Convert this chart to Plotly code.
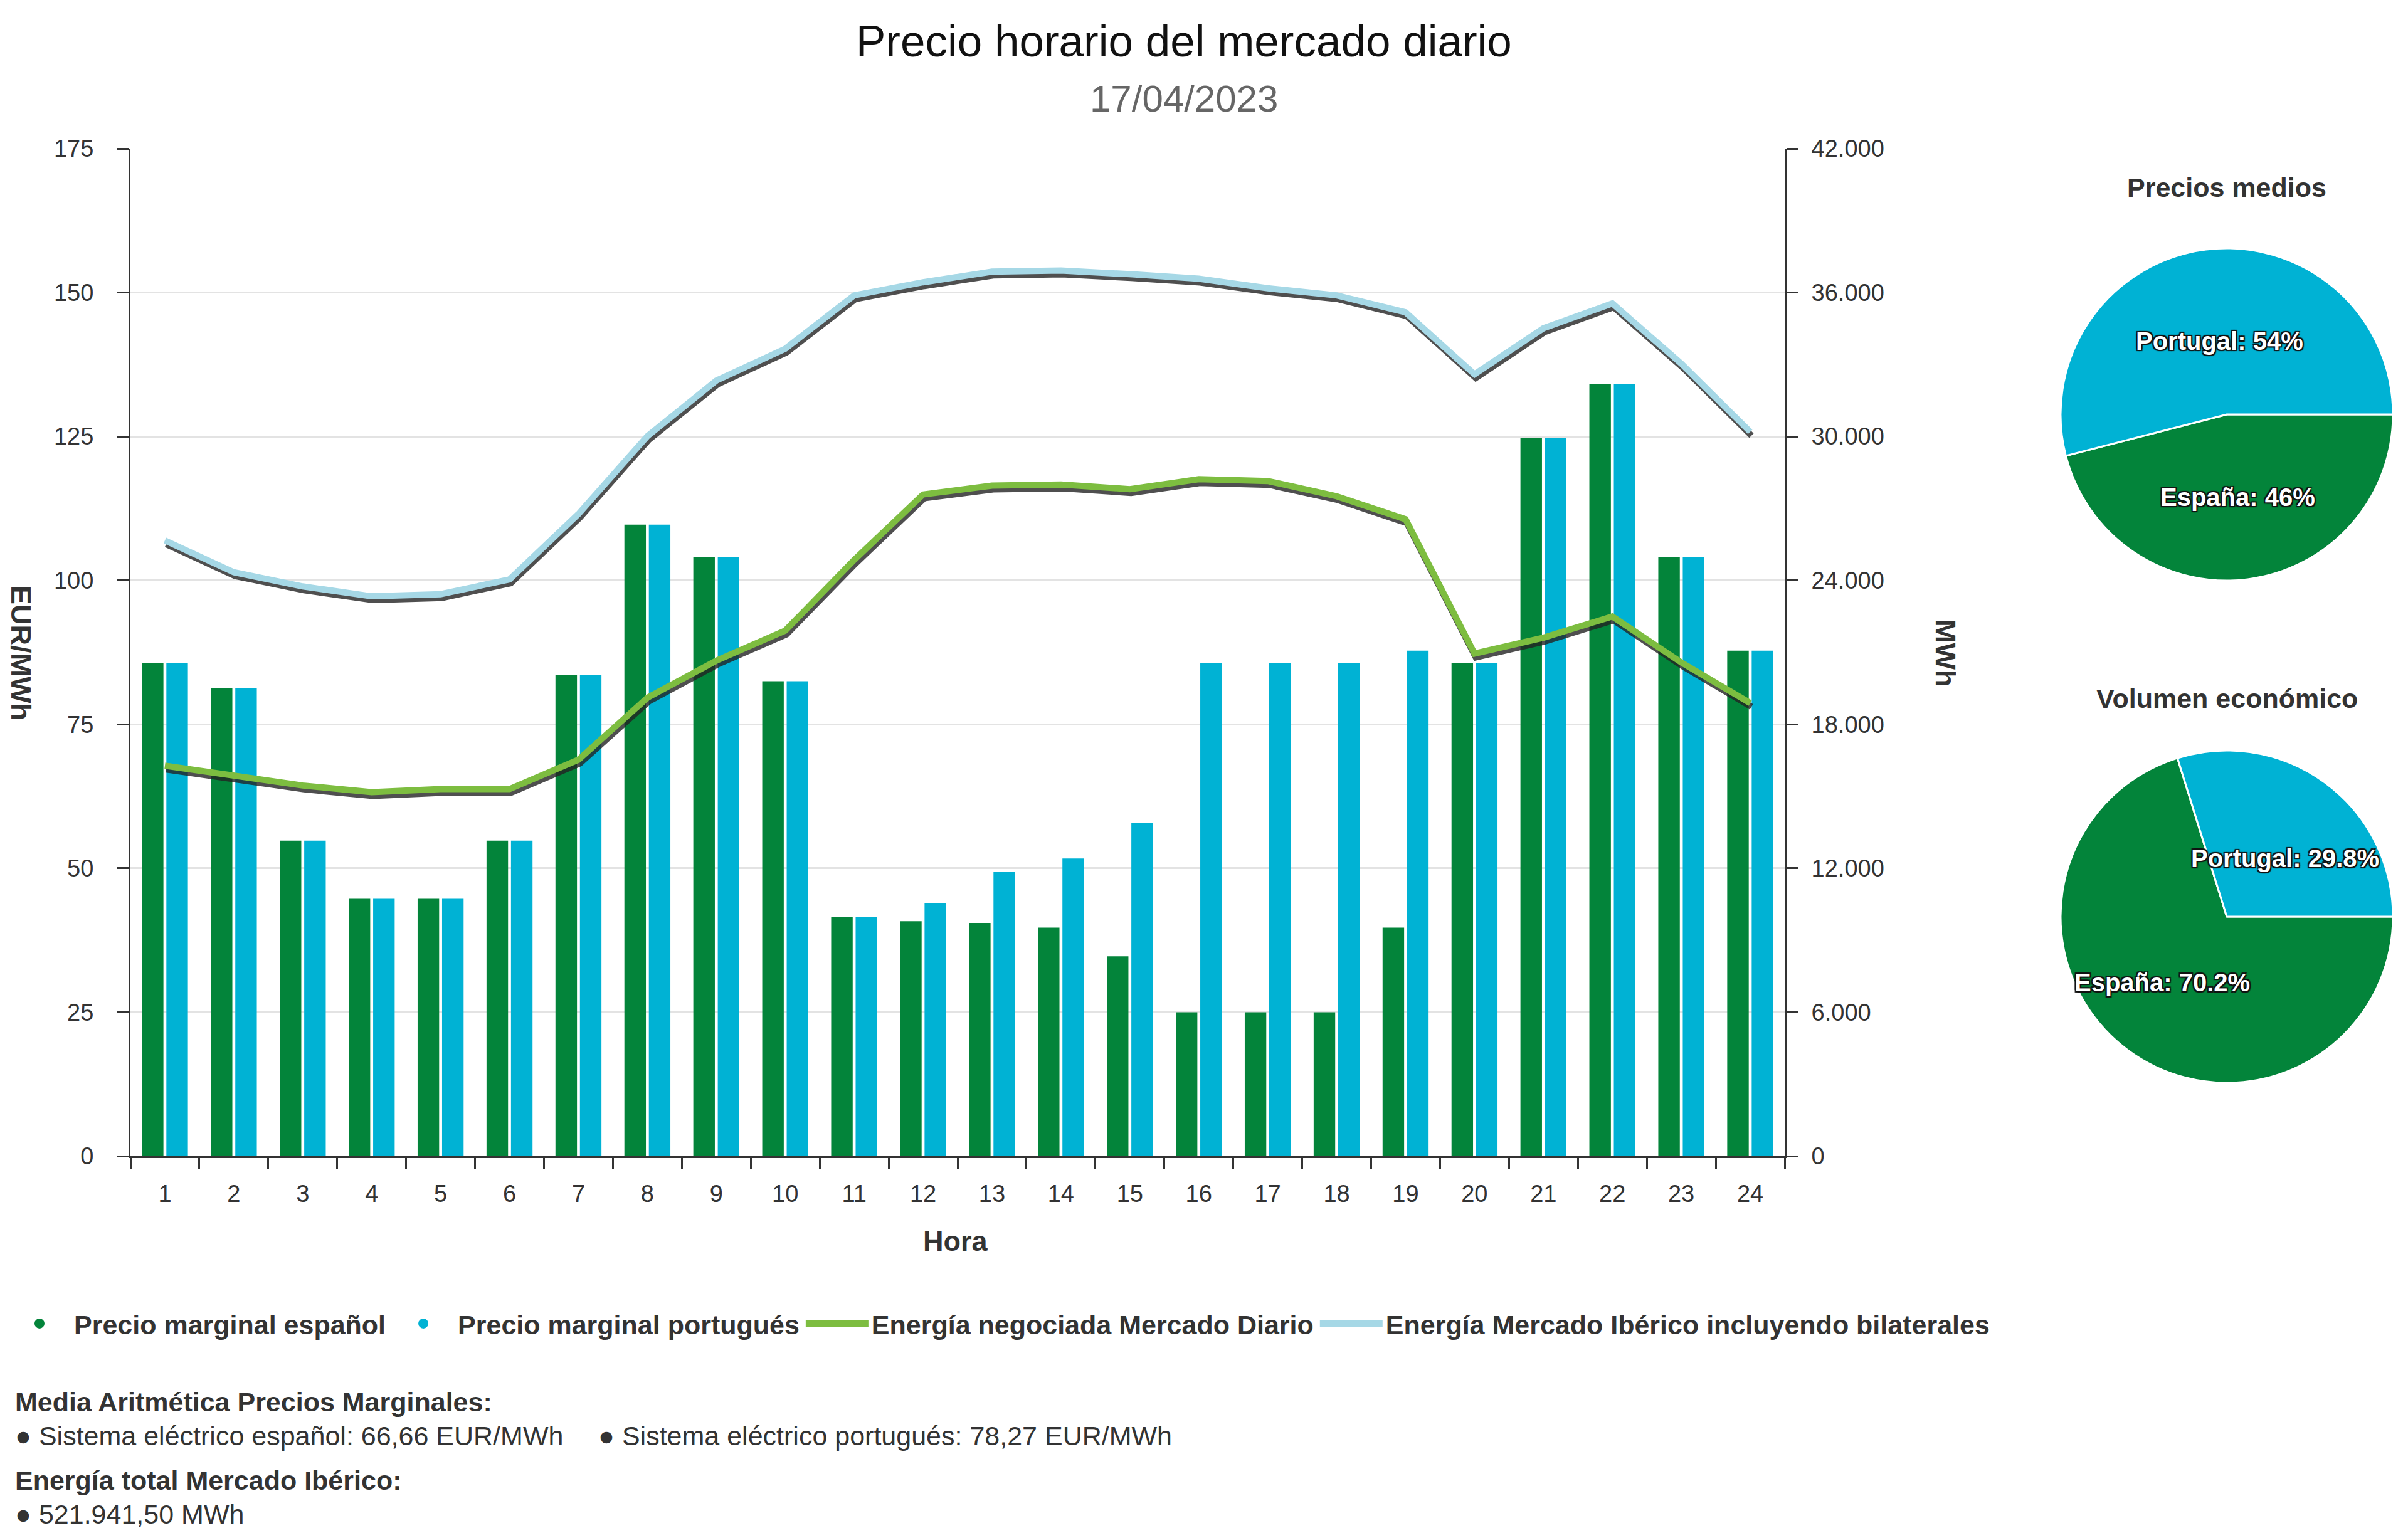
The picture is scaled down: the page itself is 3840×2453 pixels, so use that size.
import plotly.graph_objects as go

# ---------------- data ----------------
horas = list(range(1, 25))
precio_es = [85.6, 81.3, 54.8, 44.7, 44.7, 54.8, 83.6, 109.7, 104.0, 82.5, 41.6, 40.8,
             40.5, 39.7, 34.7, 25.0, 25.0, 25.0, 39.7, 85.6, 124.8, 134.1, 104.0, 87.8]
precio_pt = [85.6, 81.3, 54.8, 44.7, 44.7, 54.8, 83.6, 109.7, 104.0, 82.5, 41.6, 44.0,
             49.4, 51.7, 57.9, 85.6, 85.6, 85.6, 87.8, 85.6, 124.8, 134.1, 104.0, 87.8]
energia_md = [16275, 15863, 15449, 15170, 15302, 15302, 16526, 19106, 20654, 21907, 24855, 27582,
              27951, 27996, 27804, 28217, 28143, 27508, 26550, 20949, 21612, 22496, 20580, 18885]
energia_ib = [25666, 24339, 23750, 23337, 23424, 24043, 26771, 30015, 32328, 33656, 35882, 36428,
              36870, 36914, 36765, 36575, 36177, 35882, 35174, 32594, 34511, 35543, 33036, 30192]

eur_ticks = [0, 25, 50, 75, 100, 125, 150, 175]
mwh_ticks = [0, 6000, 12000, 18000, 24000, 30000, 36000, 42000]
mwh_ticktext = ["0", "6.000", "12.000", "18.000", "24.000", "30.000", "36.000", "42.000"]

pie_labels = ["España", "Portugal"]
precios_medios = [66.66, 78.27]
volumen_economico = [70.2, 29.8]

# ---------------- style ----------------
OFF = 8                      # default page margin around the figure
W, H = 3840 - 2 * OFF, 2453 - 2 * OFF
FONT = "Liberation Sans, Arial, sans-serif"
C_ES = "#03843A"
C_PT = "#00B2D4"
C_MD = "#7DBD40"
C_IB = "#A6D8E6"
AX = "#333333"
GRID = "#e3e3e3"


def fx(x):
    return (x - OFF) / W


def fy(y):
    return 1 - (y - OFF) / H


x0, x1 = 208, 2846
y_top, y_bot = 237, 1844
xdom = [fx(x0), fx(x1)]
ydom = [fy(y_bot), fy(y_top)]
plot_w = x1 - x0
plot_h = y_bot - y_top

SH_X, SH_Y = 2, 6  # shadow offset in pixels
dx = SH_X / plot_w * 24
dy = SH_Y / plot_h * 42000
LW = 10

fig = go.Figure()

fig.add_trace(go.Bar(x=horas, y=precio_es, name="Precio marginal español", marker=dict(color=C_ES, line=dict(width=0)),
                     showlegend=False, legendgroup="es", xaxis="x", yaxis="y"))
fig.add_trace(go.Bar(x=horas, y=precio_pt, name="Precio marginal portugués", marker=dict(color=C_PT, line=dict(width=0)),
                     showlegend=False, legendgroup="pt", xaxis="x", yaxis="y"))

# shadows
for serie in (energia_ib, energia_md):
    fig.add_trace(go.Scatter(x=horas, y=serie, mode="lines", line=dict(color="rgba(35,35,35,0.8)", width=LW),
                             showlegend=False, hoverinfo="skip", xaxis="x2", yaxis="y3"))

fig.add_trace(go.Scatter(x=horas, y=energia_ib, mode="lines", name="Energía Mercado Ibérico incluyendo bilaterales",
                         line=dict(color=C_IB, width=LW), legendrank=4, xaxis="x3", yaxis="y2"))
fig.add_trace(go.Scatter(x=horas, y=energia_md, mode="lines", name="Energía negociada Mercado Diario",
                         line=dict(color=C_MD, width=LW), legendrank=3, xaxis="x3", yaxis="y2"))

# legend entries for the bars (circle symbols)
fig.add_trace(go.Scatter(x=[None], y=[None], mode="markers", name="Precio marginal español", legendgroup="es",
                         marker=dict(color=C_ES, size=16, symbol="circle"), legendrank=1, xaxis="x", yaxis="y"))
fig.add_trace(go.Scatter(x=[None], y=[None], mode="markers", name="Precio marginal portugués", legendgroup="pt",
                         marker=dict(color=C_PT, size=16, symbol="circle"), legendrank=2, xaxis="x", yaxis="y"))


# pies
def pie_dom(cx, cy, r):
    return dict(x=[fx(cx - r), fx(cx + r)], y=[fy(cy + r), fy(cy - r)])


for vals, cy in ((precios_medios, 661), (volumen_economico, 1462)):
    fig.add_trace(go.Pie(labels=pie_labels, values=vals, sort=False, direction="clockwise", rotation=90,
                         marker=dict(colors=[C_ES, C_PT], line=dict(color="white", width=3)),
                         textinfo="none", hoverinfo="label+percent", showlegend=False,
                         domain=pie_dom(3551, cy, 265)))

tick_font = dict(family=FONT, size=38, color=AX)

fig.update_layout(
    width=W, height=H,
    margin=dict(l=0, r=0, t=0, b=0, autoexpand=False),
    paper_bgcolor="white", plot_bgcolor="white",
    font=dict(family=FONT, color=AX),
    barmode="group", bargap=0.29, bargroupgap=0.12,
    showlegend=True,
    legend=dict(orientation="h", x=0, y=fy(2111), xanchor="left", yanchor="middle",
                font=dict(family=FONT, size=43, color=AX, weight="bold"), traceorder="normal",
                itemwidth=100, bgcolor="rgba(0,0,0,0)"),
    xaxis=dict(domain=xdom, range=[0.5, 24.5], tickvals=horas, ticks="", showgrid=False, automargin=False,
               showline=True, linecolor=AX, linewidth=3, tickfont=tick_font, ticklabelstandoff=24,
               minor=dict(tick0=0.5, dtick=1, ticks="outside", ticklen=18, tickwidth=3, tickcolor=AX),
               zeroline=False, anchor="y"),
    yaxis=dict(domain=ydom, range=[0, 175], tickvals=eur_ticks, ticks="outside", ticklen=18, tickwidth=3,
               tickcolor=AX, showline=True, linecolor=AX, linewidth=3, showgrid=True, gridcolor=GRID,
               gridwidth=3, zeroline=False, tickfont=tick_font, ticklabelstandoff=30, anchor="x",
               automargin=False),
    yaxis2=dict(overlaying="y", side="right", anchor="x", range=[0, 42000], tickvals=mwh_ticks,
                ticktext=mwh_ticktext, ticks="outside", ticklen=18, tickwidth=3, tickcolor=AX,
                showline=True, linecolor=AX, linewidth=3, showgrid=False, zeroline=False,
                tickfont=tick_font, ticklabelstandoff=14, automargin=False),
    xaxis2=dict(overlaying="x", range=[0.5 - dx, 24.5 - dx], visible=False, anchor="y3", automargin=False),
    yaxis3=dict(overlaying="y", range=[dy, 42000 + dy], visible=False, anchor="x2", automargin=False),
    xaxis3=dict(overlaying="x", range=[0.5, 24.5], visible=False, anchor="y2", automargin=False),
)

ann = []


def A(text, x, y, size, color=AX, bold=False, xanchor="center", angle=0):
    ann.append(dict(text=text, x=fx(x), y=fy(y), xref="paper", yref="paper", showarrow=False,
                    xanchor=xanchor, yanchor="middle", textangle=angle,
                    font=dict(family=FONT, size=size, color=color, weight="bold" if bold else "normal")))


A("Precio horario del mercado diario", 1888, 66, 71, color="#111111")
A("17/04/2023", 1888, 157, 60, color="#666666")
A("Hora", 1523, 1979, 45, bold=True)
A("EUR/MWh", 34, 1041, 45, bold=True, angle=90)
A("MWh", 3103, 1041, 45, bold=True, angle=90)
A("Precios medios", 3551, 299, 43, bold=True)
A("Volumen económico", 3551, 1114, 43, bold=True)
A("Media Aritmética Precios Marginales:", 22, 2236, 43, bold=True, xanchor="left")
A("● Sistema eléctrico español: 66,66 EUR/MWh", 22, 2290, 43, xanchor="left")
A("● Sistema eléctrico portugués: 78,27 EUR/MWh", 952, 2290, 43, xanchor="left")
A("Energía total Mercado Ibérico:", 22, 2361, 43, bold=True, xanchor="left")
A("● 521.941,50 MWh", 22, 2415, 43, xanchor="left")


# pie labels
def pct(v, vals):
    return f"{v / sum(vals) * 100:.3g}%"


outline = "2px 2px 1px #111, -2px -2px 1px #111, 2px -2px 1px #111, -2px 2px 1px #111"
label_pos = {
    "precios": {"España": (3568, 793), "Portugal": (3539, 544)},
    "volumen": {"España": (3448, 1567), "Portugal": (3644, 1369)},
}
for key, vals in (("precios", precios_medios), ("volumen", volumen_economico)):
    for lab, v in zip(pie_labels, vals):
        px, py = label_pos[key][lab]
        ann.append(dict(text=f"{lab}: {pct(v, vals)}", x=fx(px), y=fy(py), xref="paper", yref="paper",
                        showarrow=False, xanchor="center", yanchor="middle",
                        font=dict(family=FONT, size=40, color="white", weight="bold", shadow=outline)))

fig.update_layout(annotations=ann)
fig.write_html("out.html")
